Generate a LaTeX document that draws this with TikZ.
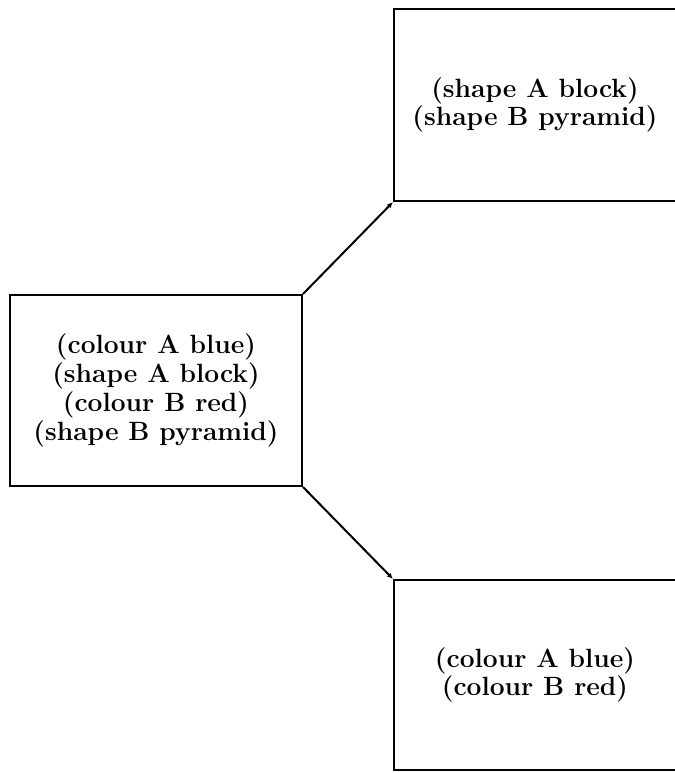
\documentclass[tikz,border=0pt]{standalone}
\usepackage{tikz}
\usetikzlibrary{arrows.meta}

\begin{document}
\begin{tikzpicture}[
  x=0.5pt, y=-0.5pt,
  font=\fontsize{13.2}{14.4}\selectfont\bfseries,
  state/.style={draw, line width=1pt, align=center, inner sep=0pt},
  link/.style={-{Latex[length=3pt,width=2.6pt]}, line width=1pt}
]
\useasboundingbox (0,0) rectangle (675,773);
\clip (0,0) rectangle (675,773);

% the combined description and its two parts
\node[state, minimum width=146pt, minimum height=95.5pt] (both) at (156,390.5)
  {(colour A blue)\\(shape A block)\\(colour B red)\\(shape B pyramid)};
\node[state, minimum width=141pt, minimum height=96pt] (shapes) at (535,105)
  {(shape A block)\\(shape B pyramid)};
\node[state, minimum width=141pt, minimum height=95pt] (colours) at (535,675)
  {(colour A blue)\\(colour B red)};

\draw[link] (both.north east) -- (shapes.south west);
\draw[link] (both.south east) -- (colours.north west);

\end{tikzpicture}
\end{document}
